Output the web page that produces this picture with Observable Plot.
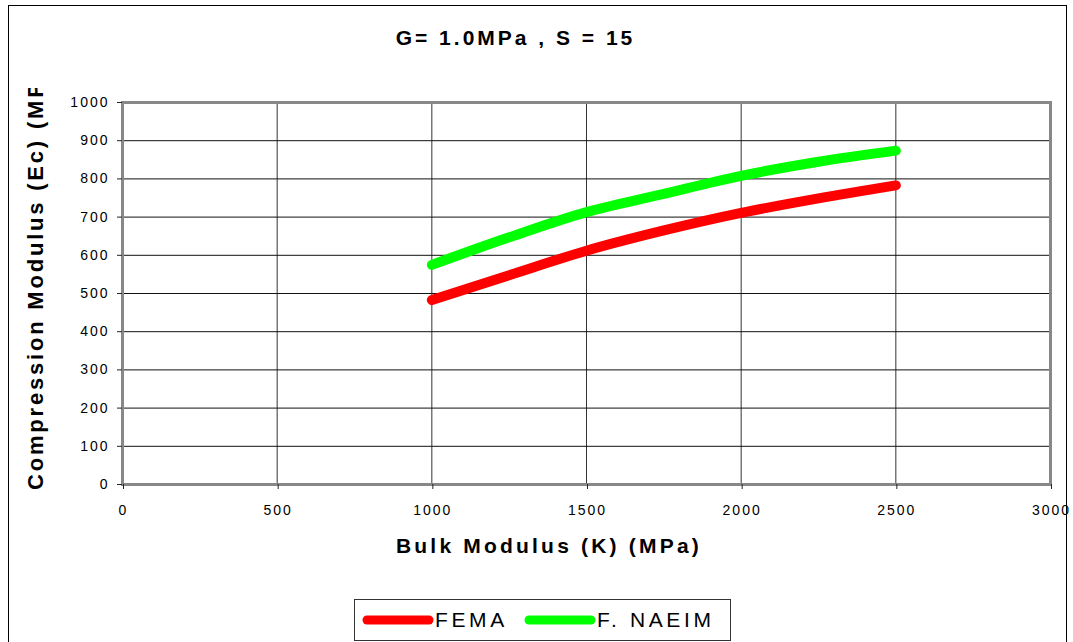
<!DOCTYPE html>
<html>
<head>
<meta charset="utf-8">
<script src="https://cdn.jsdelivr.net/npm/d3@7"></script>
<script src="https://cdn.jsdelivr.net/npm/@observablehq/plot@0.6"></script>
<style>
  html, body { margin: 0; padding: 0; background: #fff; }
  #wrap { position: relative; width: 1073px; height: 642px; overflow: hidden; font-family: "Liberation Sans", Arial, sans-serif; }
  #border { position: absolute; left: 8px; top: 5px; width: 1059px; height: 700px; border: 1px solid #000; box-sizing: border-box; }
  #chart { position: absolute; left: 0; top: 0; }
  #title { position: absolute; left: 0; width: 1031px; top: 26px; text-align: center; font-weight: bold; font-size: 21px; letter-spacing: 3px; white-space: nowrap; }
  #xlabel { position: absolute; left: 0; width: 1098px; top: 534px; text-align: center; font-weight: bold; font-size: 21px; letter-spacing: 3.2px; white-space: nowrap; }
  #yclip { position: absolute; left: 15px; top: 88px; width: 50px; height: 420px; overflow: hidden; }
  #ylabel { position: absolute; left: 8px; top: 402px; transform-origin: 0 0; transform: rotate(-90deg); white-space: nowrap; font-weight: bold; font-size: 22px; letter-spacing: 2.8px; }
  #legend { position: absolute; left: 354px; top: 599px; width: 377px; height: 42px; border: 1px solid #333; box-sizing: border-box; }
  .item { position: absolute; top: 6px; display: flex; align-items: center; font-size: 21px; letter-spacing: 3.6px; white-space: nowrap; }
</style>
</head>
<body>
<div id="wrap">
  <div id="border"></div>
  <div id="chart"></div>
  <div id="title">G= 1.0MPa , S = 15</div>
  <div id="xlabel">Bulk Modulus (K) (MPa)</div>
  <div id="yclip"><div id="ylabel">Compression Modulus (Ec) (MPa)</div></div>
  <div id="legend"></div>
</div>
<script>
const bulk = [1000, 1250, 1500, 1750, 2000, 2250, 2500];
const fema = [483, 548, 612, 665, 711, 749, 783];
const naeim = [575, 647, 713, 761, 808, 845, 874];
const seriesNames = ["FEMA", "F. NAEIM"];
const seriesColors = ["#ff0000", "#00ff00"];
const xTicks = [0, 500, 1000, 1500, 2000, 2500, 3000];
const yTicks = [0, 100, 200, 300, 400, 500, 600, 700, 800, 900, 1000];

const rows = [];
bulk.forEach((k, i) => rows.push({k, v: fema[i], s: seriesNames[0]}));
bulk.forEach((k, i) => rows.push({k, v: naeim[i], s: seriesNames[1]}));

const fmt = d3.format("d");
const chart = Plot.plot({
  width: 1073,
  height: 642,
  marginLeft: 122,
  marginRight: 23,
  marginTop: 102,
  marginBottom: 158,
  style: {fontFamily: "Liberation Sans, Arial, sans-serif", fontSize: "14px", background: "transparent", letterSpacing: "2px"},
  x: {domain: [0, 3000], label: null},
  y: {domain: [0, 1000], label: null},
  color: {domain: seriesNames, range: seriesColors},
  marks: [
    Plot.gridX(xTicks, {stroke: "#333", strokeOpacity: 1, strokeWidth: 1}),
    Plot.gridY(yTicks, {stroke: "#111", strokeOpacity: 1, strokeWidth: 1}),
    Plot.frame({stroke: "#888", strokeWidth: 3}),
    Plot.axisX({ticks: xTicks, tickFormat: fmt, tickSize: 5, tickPadding: 16, stroke: "#222", color: "#000", dx: 1}),
    Plot.axisY({ticks: yTicks, tickFormat: fmt, tickSize: 5, tickPadding: 8, stroke: "#222", color: "#000"}),
    Plot.line(rows, {x: "k", y: "v", z: "s", stroke: "s", strokeWidth: 10, strokeLinecap: "round", strokeLinejoin: "round", curve: "monotone-x"})
  ]
});
document.getElementById("chart").appendChild(chart);

const legend = document.getElementById("legend");
const lx = [6, 168];
seriesNames.forEach((name, i) => {
  const d = document.createElement("div");
  d.className = "item";
  d.style.left = lx[i] + "px";
  d.innerHTML = `<svg width="74" height="28"><line x1="6" y1="14" x2="68" y2="14" stroke="${seriesColors[i]}" stroke-width="9" stroke-linecap="round"/></svg><span>${name}</span>`;
  legend.appendChild(d);
});
</script>
</body>
</html>
